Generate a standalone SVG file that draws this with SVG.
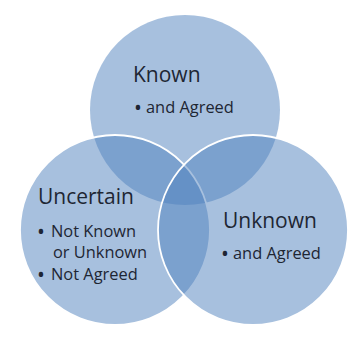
<svg xmlns="http://www.w3.org/2000/svg" width="349" height="338" viewBox="0 0 349 338">
<style>
.c{fill:#4f81bd;fill-opacity:0.5;stroke:#ffffff;stroke-width:1.8}
.t{font-family:"Open Sans","Liberation Sans",sans-serif;fill:#1e2633}
.h{font-size:21px}
.b{font-size:16.4px}
.d{font-size:21px}
</style>
<rect width="349" height="338" fill="#ffffff"/>
<g id="known">
<circle class="c" cx="185" cy="110" r="95" style="stroke:none"/>
</g>
<g id="uncertain">
<circle class="c" cx="115" cy="230" r="95"/>
</g>
<g id="unknown">
<circle class="c" cx="253" cy="230" r="95"/>
</g>
<g id="connectors"></g>
<g id="known-text">
<text class="t h" x="133" y="82">Known</text>
<text class="t d" x="134" y="115">•</text>
<text class="t b" x="146" y="113">and Agreed</text>
</g>
<g id="uncertain-text">
<text class="t h" x="38" y="204">Uncertain</text>
<text class="t d" x="37" y="239">•</text>
<text class="t b" x="51" y="237">Not Known</text>
<text class="t b" x="53" y="258">or Unknown</text>
<text class="t d" x="37" y="282">•</text>
<text class="t b" x="51" y="280">Not Agreed</text>
</g>
<g id="unknown-text">
<text class="t h" x="223" y="228">Unknown</text>
<text class="t d" x="221" y="261">•</text>
<text class="t b" x="233" y="259">and Agreed</text>
</g>
</svg>
